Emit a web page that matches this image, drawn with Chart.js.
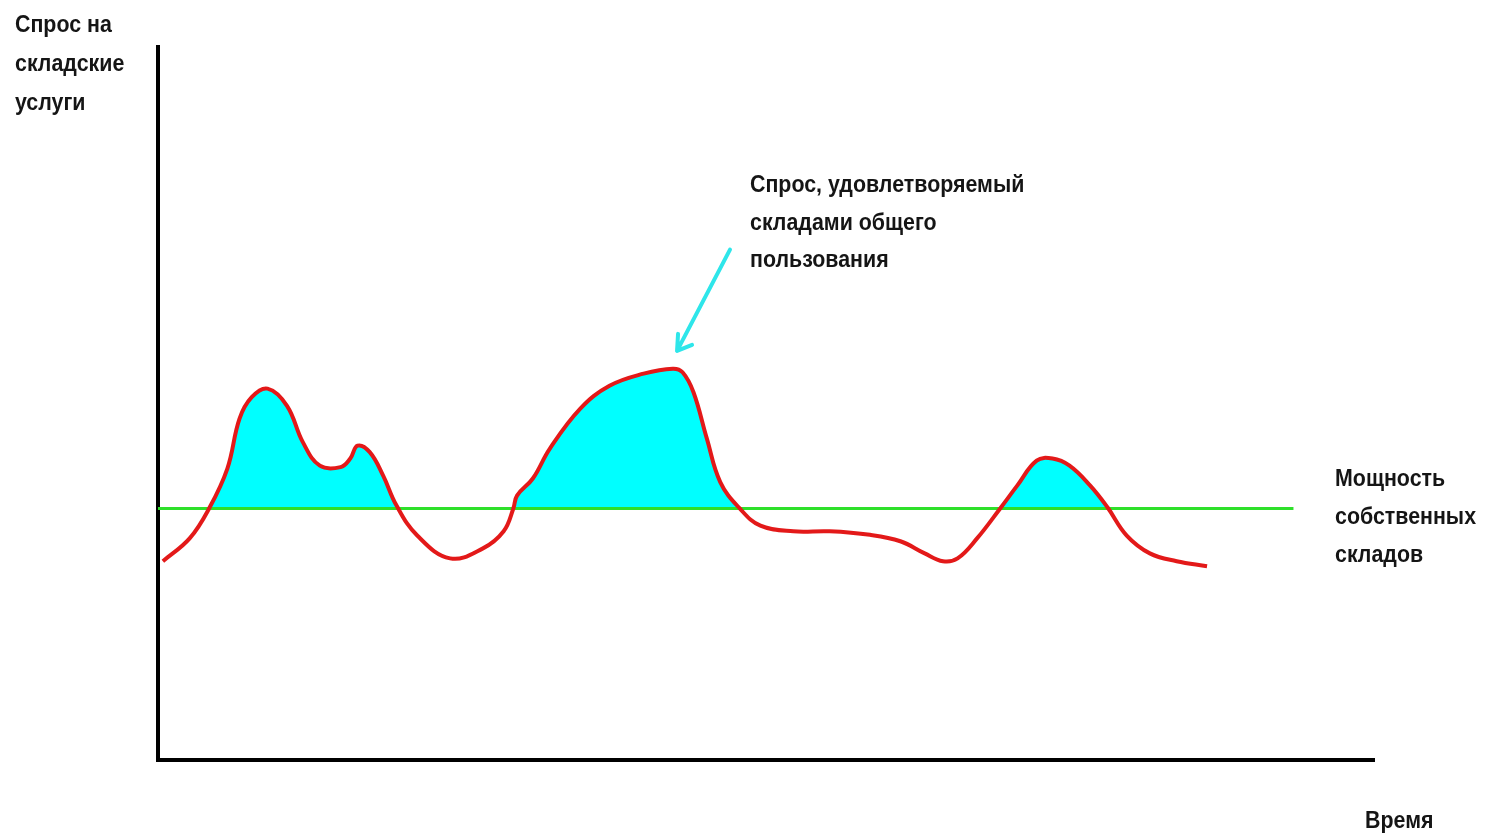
<!DOCTYPE html>
<html>
<head>
<meta charset="utf-8">
<script src="https://cdn.jsdelivr.net/npm/chart.js@4/dist/chart.umd.min.js"></script>
<style>
    body { margin: 0; background: #fff; }
    canvas { display: block; }
</style>
</head>
<body>
<canvas id="demand" width="1486" height="833"></canvas>
<script>
// time axis 0..100, demand axis 0..100
const demandTime = [
    0.4, 2.6, 4.2, 5.7, 6.7, 7.7, 9.0, 10.6, 11.9, 13.3, 15.0, 15.8, 16.4, 17.4,
    18.5, 19.6, 21.3, 24.0, 26.7, 28.4, 29.2, 29.5, 30.8, 32.2, 34.7, 37.1, 39.9,
    42.3, 43.1, 44.0, 45.1, 46.2, 47.8, 49.5, 52.2, 55.2, 58.5, 61.0, 63.0, 64.5,
    65.7, 67.3, 69.2, 70.6, 72.2, 73.5, 74.9, 76.6, 78.0, 79.6, 81.5, 83.7, 86.2
]
const demandValues = [
    27.6, 30.8, 35.0, 40.6, 47.6, 50.6, 51.8, 49.4, 44.3, 41.0, 40.8, 42.0, 43.8, 42.9,
    39.6, 35.4, 31.2, 28.0, 29.4, 31.8, 35.0, 36.8, 39.2, 43.4, 49.0, 52.2, 53.9,
    54.6, 54.1, 51.3, 44.8, 38.7, 35.0, 32.6, 31.8, 31.8, 31.3, 30.4, 28.7, 27.6,
    28.0, 30.8, 35.0, 38.2, 41.7, 42.0, 41.0, 38.2, 35.2, 31.2, 28.7, 27.6, 26.9
]
const capacityTime = [0, 93.3]
const capacityValues = [35, 35]

const yTitle = ['Спрос на', 'складские', 'услуги']
const publicNote = ['Спрос, удовлетворяемый', 'складами общего', 'пользования']
const capacityNote = ['Мощность', 'собственных', 'складов']
const xTitle = 'Время'

function toPoints(xs, ys) {
    return xs.map(function (x, i) { return { x: x, y: ys[i] } })
}

function drawLines(ctx, lines, x, baseline, step) {
    ctx.save()
    ctx.font = 'bold 23px "Liberation Sans", Arial, sans-serif'
    ctx.fillStyle = '#151515'
    ctx.textBaseline = 'alphabetic'
    lines.forEach(function (line, i) {
        ctx.save()
        ctx.translate(x, baseline + i * step)
        ctx.scale(0.93, 1)
        ctx.fillText(line, 0, 0)
        ctx.restore()
    })
    ctx.restore()
}

// axes, arrow and captions
const decorations = {
    id: 'decorations',
    beforeDatasetsDraw(chart) {
        const ctx = chart.ctx
        const area = chart.chartArea
        ctx.save()
        ctx.strokeStyle = '#000'
        ctx.lineWidth = 4
        ctx.beginPath()
        ctx.moveTo(area.left, area.top)
        ctx.lineTo(area.left, area.bottom + 2)
        ctx.lineTo(area.right, area.bottom + 2)
        ctx.stroke()
        ctx.restore()
    },
    afterDatasetsDraw(chart) {
        const ctx = chart.ctx
        const xs = chart.scales.x
        const ys = chart.scales.y
        const tipX = xs.getPixelForValue(42.65)
        const tipY = ys.getPixelForValue(57.1)
        const tailX = xs.getPixelForValue(47.0)
        const tailY = ys.getPixelForValue(71.3)
        ctx.save()
        ctx.strokeStyle = '#2ee6ea'
        ctx.lineWidth = 4
        ctx.lineCap = 'round'
        ctx.beginPath()
        ctx.moveTo(tailX, tailY)
        ctx.lineTo(tipX, tipY)
        ctx.moveTo(tipX, tipY)
        ctx.lineTo(tipX + 1, tipY - 17)
        ctx.moveTo(tipX, tipY)
        ctx.lineTo(tipX + 15, tipY - 6)
        ctx.stroke()
        ctx.restore()

        drawLines(ctx, yTitle, 15, 32, 39)
        drawLines(ctx, publicNote, 750, 192, 37.5)
        drawLines(ctx, capacityNote, 1335, 486, 38)
        drawLines(ctx, [xTitle], 1365, 828, 0)
    }
}

let ctx = document.getElementById('demand')
let demandChart = new Chart(ctx, {
    type: 'line',
    data: {
        datasets: [{
            label: 'Спрос',
            data: toPoints(demandTime, demandValues),
            borderColor: '#e31919',
            borderWidth: 4,
            pointRadius: 0,
            tension: 0.4,
            fill: {
                target: 1,
                above: '#00ffff',
                below: 'rgba(0,0,0,0)'
            }
        }, {
            label: 'Мощность собственных складов',
            data: toPoints(capacityTime, capacityValues),
            borderColor: '#2ee02a',
            borderWidth: 3,
            pointRadius: 0,
            fill: false
        }]
    },
    options: {
        responsive: false,
        animation: false,
        devicePixelRatio: 1,
        layout: {
            padding: { left: 158, right: 111, top: 45, bottom: 75 }
        },
        scales: {
            x: { type: 'linear', min: 0, max: 100, display: false },
            y: { min: 0, max: 100, display: false }
        },
        plugins: {
            legend: { display: false },
            tooltip: { enabled: false },
            filler: { drawTime: 'beforeDatasetsDraw' }
        }
    },
    plugins: [decorations]
})
</script>
</body>
</html>
